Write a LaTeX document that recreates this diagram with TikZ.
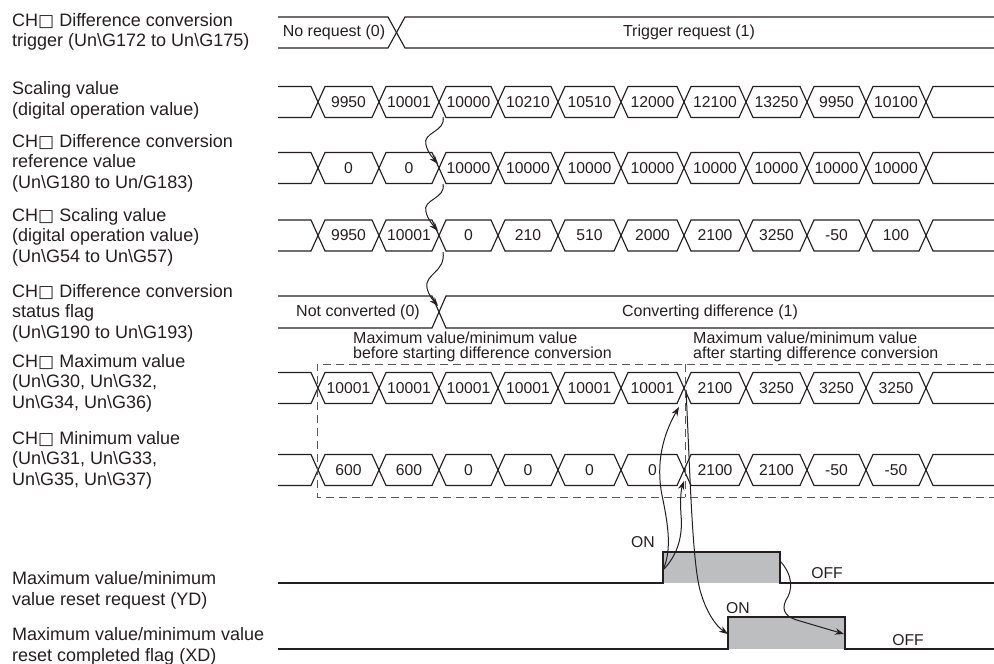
\documentclass[tikz,border=0pt]{standalone}
\usepackage{fontspec}
\setmainfont{Liberation Sans}
\newfontfamily\dvs{DejaVu Sans}
\usetikzlibrary{arrows.meta}
\definecolor{ink}{HTML}{231F20}
\definecolor{pulsefill}{HTML}{BCBEC0}
\newcommand\bsl{\textbackslash}
\newcommand\sqb{{\dvs\fontsize{17}{17}\selectfont □}}
\newcommand\busrow[3]{%
  \draw[bus] (278,#2-15.5) -- (311,#2-15.5) -- (318,#2) -- (311,#2+15.5) -- (278,#2+15.5);
  \draw[bus] (994,#2-15.5) -- (933,#2-15.5) -- (926,#2) -- (933,#2+15.5) -- (994,#2+15.5);
  \foreach \v [count=\i] in {#3} {
    \pgfmathsetmacro\xa{{318,379,439,498,558,621,684,746,807,866,926}[\i-1]}
    \pgfmathsetmacro\xb{{318,379,439,498,558,621,684,746,807,866,926}[\i]}
    \draw[bus] (\xa,#2) -- (\xa+7,#2-15.5) -- (\xb-7,#2-15.5) -- (\xb,#2) -- (\xb-7,#2+15.5) -- (\xa+7,#2+15.5) -- cycle;
    \node[val] (#1-\i) at ({(\xa+\xb)/2},#2) {\v};
  }
}
\begin{document}
\begin{tikzpicture}[x=1pt,y=-1pt,
  bus/.style={draw=ink,line width=1.15pt,line join=miter},
  lbl/.style={anchor=base west,align=left,inner sep=0pt,font=\fontsize{18}{20.5}\selectfont,text=ink},
  val/.style={inner sep=0pt,font=\fontsize{15.7}{16}\selectfont,text=ink},
  stxt/.style={inner sep=0pt,font=\fontsize{16}{16}\selectfont,text=ink},
  note/.style={anchor=base west,align=left,inner sep=0pt,font=\fontsize{16}{15}\selectfont,text=ink},
  sig/.style={draw=ink,line width=1.5pt,line join=miter},
  wave/.style={draw=ink,line width=1pt,-{Stealth[length=9pt,width=6.5pt]}},
  dbox/.style={draw=ink!75,line width=0.9pt,dash pattern=on 8pt off 5pt}
]
\useasboundingbox (0,0) rectangle (994,664);

% ---------- left labels (anchor = baseline of last line) ----------
\node[lbl] (l1) at (12,46.7) {CH\sqb\ Difference conversion\\trigger (Un\bsl G172 to Un\bsl G175)};
\node[lbl] (l2) at (12,115) {Scaling value\\(digital operation value)};
\node[lbl] (l3) at (12,188) {CH\sqb\ Difference conversion\\reference value\\(Un\bsl G180 to Un/G183)};
\node[lbl] (l4) at (12,262) {CH\sqb\ Scaling value\\(digital operation value)\\(Un\bsl G54 to Un\bsl G57)};
\node[lbl] (l5) at (12,338) {CH\sqb\ Difference conversion\\status flag\\(Un\bsl G190 to Un\bsl G193)};
\node[lbl] (l6) at (12,408) {CH\sqb\ Maximum value\\(Un\bsl G30, Un\bsl G32,\\Un\bsl G34, Un\bsl G36)};
\node[lbl] (l7) at (12,485) {CH\sqb\ Minimum value\\(Un\bsl G31, Un\bsl G33,\\Un\bsl G35, Un\bsl G37)};
\node[lbl] (l8) at (12,605) {Maximum value/minimum\\value reset request (YD)};
\node[lbl] (l9) at (12,661) {Maximum value/minimum value\\reset completed flag (XD)};

% ---------- row 1: trigger ----------
\draw[bus] (278,17) -- (388,17) -- (405,48) -- (994,48);
\draw[bus] (278,48) -- (388,48) -- (405,17) -- (994,17);
\node[stxt] (nreq) at (334,32.5) {No request (0)};
\node[stxt] (treq) at (689,32.5) {Trigger request (1)};

% ---------- bus rows ----------
\busrow{sv}{102}{9950,10001,10000,10210,10510,12000,12100,13250,9950,10100}
\busrow{ref}{168}{0,0,10000,10000,10000,10000,10000,10000,10000,10000}
\busrow{chs}{235.5}{9950,10001,0,210,510,2000,2100,3250,-50,100}
\busrow{mx}{388}{10001,10001,10001,10001,10001,10001,2100,3250,3250,3250}
\busrow{mn}{470}{600,600,0,0,0,0,2100,2100,-50,-50}

% ---------- row 5: status flag ----------
\draw[bus] (278,296) -- (432,296) -- (446,328) -- (994,328);
\draw[bus] (278,328) -- (432,328) -- (446,296) -- (994,296);
\node[stxt] (ncv) at (358,312) {Not converted (0)};
\node[stxt] (cvd) at (710,312) {Converting difference (1)};

% ---------- annotations and dashed box ----------
\node[note] (n1) at (353,358) {Maximum value/minimum value\\before starting difference conversion};
\node[note] (n2) at (693,358) {Maximum value/minimum value\\after starting difference conversion};
\draw[dbox] (994,364) -- (317,364) -- (317,497) -- (994,497);
\draw[dbox] (685,364) -- (685,497);

% ---------- YD / XD signals ----------
\fill[pulsefill] (663,552) rectangle (780,583);
\fill[pulsefill] (728,617) rectangle (845,649);
\draw[sig] (278,583) -- (663,583) -- (663,552) -- (780,552) -- (780,583) -- (994,583);
\draw[sig] (278,649) -- (728,649) -- (728,617) -- (845,617) -- (845,649) -- (994,649);
\node[val] (on1) at (643,542) {ON};
\node[val] (off1) at (827,573) {OFF};
\node[val] (on2) at (738,608) {ON};
\node[val] (off2) at (908,640) {OFF};

% ---------- named points for connectors ----------
\coordinate (a1s) at (443,117);
\coordinate (a1e) at (438,164);
\coordinate (a2s) at (443,184);
\coordinate (a2e) at (438,231);
\coordinate (a3s) at (443,252);
\coordinate (a3e) at (438,306);
\coordinate (ydr) at (663,570);
\coordinate (mxc) at (679,407);
\coordinate (mnc) at (684,481);
\coordinate (mxx) at (686,390);
\coordinate (xdr) at (728,634);
\coordinate (ydf) at (780,561);
\coordinate (xdf) at (844,634);

% ---------- wavy arrows ----------
\draw[wave] (a1s) .. controls (446,132) and (422,132) .. (426,145) .. controls (428,153) and (433,158) .. (a1e);
\draw[wave] (a2s) .. controls (446,199) and (422,199) .. (426,212) .. controls (428,220) and (433,225) .. (a2e);
\draw[wave] (a3s) .. controls (446,272) and (424,274) .. (427,288) .. controls (429,296) and (433,300) .. (a3e);
\draw[wave] (ydr) .. controls (672,550) and (668,525) .. (663,500) .. controls (656,470) and (660,440) .. (mxc);
\draw[wave] (ydr) .. controls (678,555) and (683,535) .. (681,515) .. controls (680,500) and (681,490) .. (mnc);
\draw[wave] (mxx) .. controls (690,470) and (692,560) .. (700,590) .. controls (706,612) and (716,626) .. (xdr);
\draw[wave] (ydf) .. controls (793,575) and (793,590) .. (786,600) .. controls (780,612) and (788,618) .. (800,621) -- (xdf);
\end{tikzpicture}
\end{document}
